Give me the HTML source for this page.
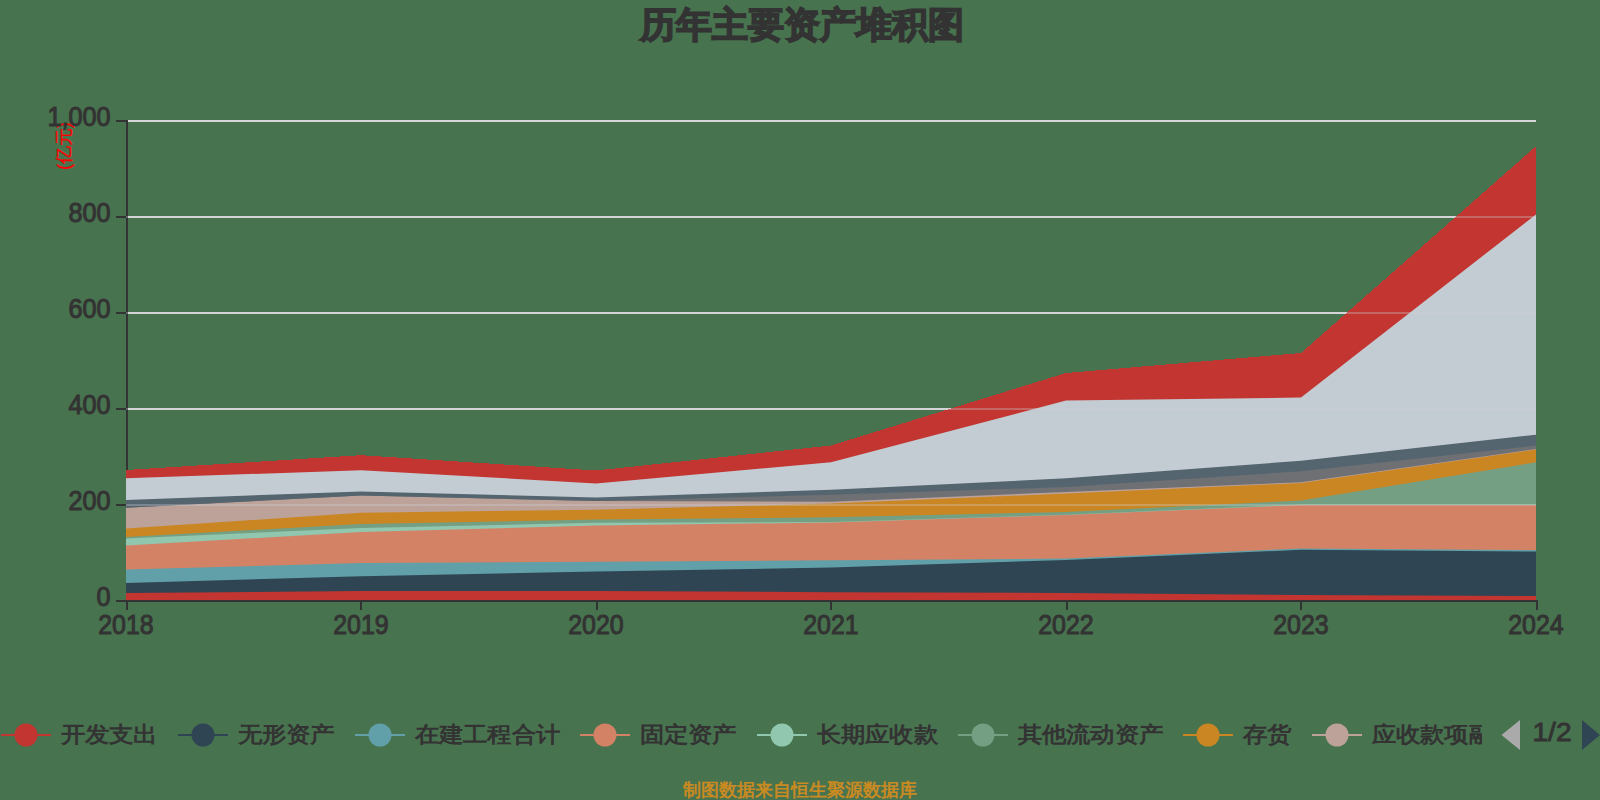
<!DOCTYPE html>
<html><head><meta charset="utf-8"><style>
html,body{margin:0;padding:0;background:#48734f;}
body{width:1600px;height:800px;overflow:hidden;position:relative;font-family:"Liberation Sans",sans-serif;}
svg{position:absolute;left:0;top:0;}
.ax{font-family:"Liberation Sans",sans-serif;font-size:26px;fill:#333;stroke:#333;stroke-width:1px;}
.lg{font-family:"Liberation Sans",sans-serif;font-size:24px;font-weight:bold;fill:#333;}
.tt{font-family:"Liberation Sans",sans-serif;font-size:36px;font-weight:bold;fill:#333;stroke:#333;stroke-width:1.65px;}
.ft{font-family:"Liberation Sans",sans-serif;font-size:18px;font-weight:bold;fill:#c98a22;}
.yn{font-family:"Liberation Sans",sans-serif;font-size:18px;fill:#ff0000;stroke:#ff0000;stroke-width:0.3px;}
</style></head><body>
<svg width="1600" height="800" viewBox="0 0 1600 800">
<text transform="translate(802,36.5)" text-anchor="middle" class="tt">历年主要资产堆积图</text>
<rect x="126" y="120" width="1410" height="2" fill="#d8d6da"/><rect x="126" y="216" width="1410" height="2" fill="#d8d6da"/><rect x="126" y="312" width="1410" height="2" fill="#d8d6da"/><rect x="126" y="408" width="1410" height="2" fill="#d8d6da"/><rect x="126" y="504" width="1410" height="2" fill="#d8d6da"/>
<rect x="126" y="120" width="2" height="482" fill="#333"/>
<path d="M126 470 L361 455.2 L596 470.5 L831 445.5 L1066 373 L1301 353 L1536 146.25 L1536 217.4 L1301 400.6 L1066 403.6 L831 465.3 L596 486.4 L361 473.2 L126 481.3 Z" fill="#c23531" shape-rendering="crispEdges"/><path d="M126 591.8 L361 589.8 L596 589.8 L831 591 L1066 591.8 L1301 593.8 L1536 594.8 L1536 600 L1301 600 L1066 600 L831 600 L596 600 L361 600 L126 600 Z" fill="#c23531"/><path d="M126 581.8 L361 575.1 L596 570.3 L831 566.3 L1066 558.8 L1301 548.6 L1536 550.3 L1536 596 L1301 595 L1066 593 L831 592.2 L596 591 L361 591 L126 593 Z" fill="#2f4554"/><path d="M126 568.3 L361 561.8 L596 560.6 L831 559 L1066 557.4 L1301 547.2 L1536 548.9 L1536 551.5 L1301 549.8 L1066 560 L831 567.5 L596 571.5 L361 576.3 L126 583 Z" fill="#61a0a8"/><path d="M126 544.3 L361 530.8 L596 524.3 L831 521.3 L1066 513.8 L1301 503.8 L1536 503.8 L1536 550.1 L1301 548.4 L1066 558.6 L831 560.2 L596 561.8 L361 563 L126 569.5 Z" fill="#d48265"/><path d="M126 537.3 L361 526.8 L596 521.6 L831 520.8 L1066 513.6 L1301 503.3 L1536 503.3 L1536 505 L1301 505 L1066 515 L831 522.5 L596 525.5 L361 532 L126 545.5 Z" fill="#91c7ae"/><path d="M126 535.8 L361 522.8 L596 518.3 L831 516.05 L1066 510.8 L1301 499.3 L1536 461.05 L1536 504.5 L1301 504.5 L1066 514.8 L831 522 L596 522.8 L361 528 L126 538.5 Z" fill="#749f83"/><path d="M126 527.3 L361 511.6 L596 508.5 L831 502.4 L1066 492.3 L1301 481.8 L1536 448.4 L1536 462.25 L1301 500.5 L1066 512 L831 517.25 L596 519.5 L361 524 L126 537 Z" fill="#ca8622"/><path d="M126 506.6 L361 494.3 L596 499.8 L831 500.55 L1066 490.8 L1301 481 L1536 447.8 L1536 449.6 L1301 483 L1066 493.5 L831 503.6 L596 509.7 L361 512.8 L126 528.5 Z" fill="#bda29a"/><path d="M126 506.6 L361 494.3 L596 499.8 L831 493.55 L1066 485.8 L1301 470 L1536 444.4 L1536 449 L1301 482.2 L1066 492 L831 501.75 L596 501 L361 495.5 L126 507.8 Z" fill="#6e7074"/><path d="M126 498.8 L361 490.3 L596 496.3 L831 488.5 L1066 477.1 L1301 459.6 L1536 433.55 L1536 445.6 L1301 471.2 L1066 487 L831 494.75 L596 501 L361 495.5 L126 507.8 Z" fill="#546570"/><path d="M126 478.3 L361 470.2 L596 483.4 L831 462.3 L1066 400.6 L1301 397.6 L1536 214.4 L1536 434.75 L1301 460.8 L1066 478.3 L831 489.7 L596 497.5 L361 491.5 L126 500 Z" fill="#c4ccd3"/>
<rect x="126" y="216" width="1410" height="2" fill="#ccd0d4" opacity="0.32"/><rect x="126" y="312" width="1410" height="2" fill="#ccd0d4" opacity="0.32"/><rect x="126" y="408" width="1410" height="2" fill="#ccd0d4" opacity="0.32"/><rect x="126" y="504" width="1410" height="2" fill="#ccd0d4" opacity="0.32"/>
<rect x="126" y="600" width="1412" height="2" fill="#333"/>
<rect x="116" y="120" width="10" height="2" fill="#333"/><rect x="116" y="216" width="10" height="2" fill="#333"/><rect x="116" y="312" width="10" height="2" fill="#333"/><rect x="116" y="408" width="10" height="2" fill="#333"/><rect x="116" y="504" width="10" height="2" fill="#333"/><rect x="116" y="600" width="10" height="2" fill="#333"/><rect x="126" y="600" width="2" height="10" fill="#333"/><rect x="360" y="600" width="2" height="10" fill="#333"/><rect x="596" y="600" width="2" height="10" fill="#333"/><rect x="830" y="600" width="2" height="10" fill="#333"/><rect x="1066" y="600" width="2" height="10" fill="#333"/><rect x="1300" y="600" width="2" height="10" fill="#333"/><rect x="1536" y="600" width="2" height="10" fill="#333"/>
<text transform="translate(70,146) rotate(-90)" text-anchor="middle" class="yn">(亿元)</text>
<text transform="translate(110.5,606) scale(0.97,1.05)" text-anchor="end" class="ax">0</text><text transform="translate(110.5,510) scale(0.97,1.05)" text-anchor="end" class="ax">200</text><text transform="translate(110.5,414) scale(0.97,1.05)" text-anchor="end" class="ax">400</text><text transform="translate(110.5,318) scale(0.97,1.05)" text-anchor="end" class="ax">600</text><text transform="translate(110.5,222) scale(0.97,1.05)" text-anchor="end" class="ax">800</text><text transform="translate(110.5,126) scale(0.97,1.05)" text-anchor="end" class="ax">1,000</text><text transform="translate(126,633.6) scale(0.96,1.06)" text-anchor="middle" class="ax">2018</text><text transform="translate(361,633.6) scale(0.96,1.06)" text-anchor="middle" class="ax">2019</text><text transform="translate(596,633.6) scale(0.96,1.06)" text-anchor="middle" class="ax">2020</text><text transform="translate(831,633.6) scale(0.96,1.06)" text-anchor="middle" class="ax">2021</text><text transform="translate(1066,633.6) scale(0.96,1.06)" text-anchor="middle" class="ax">2022</text><text transform="translate(1301,633.6) scale(0.96,1.06)" text-anchor="middle" class="ax">2023</text><text transform="translate(1536,633.6) scale(0.96,1.06)" text-anchor="middle" class="ax">2024</text>
<defs><clipPath id="lc"><rect x="0" y="700" width="1482" height="60"/></clipPath></defs>
<g clip-path="url(#lc)"><rect x="1" y="734" width="50" height="2" fill="#c23531"/><circle cx="26" cy="735" r="11.5" fill="#c23531"/><text transform="translate(61,742.3) scale(1.02,0.92)" class="lg">开发支出</text><rect x="178" y="734" width="50" height="2" fill="#2f4554"/><circle cx="203" cy="735" r="11.5" fill="#2f4554"/><text transform="translate(238,742.3) scale(1.02,0.92)" class="lg">无形资产</text><rect x="355" y="734" width="50" height="2" fill="#61a0a8"/><circle cx="380" cy="735" r="11.5" fill="#61a0a8"/><text transform="translate(415,742.3) scale(1.02,0.92)" class="lg">在建工程合计</text><rect x="580" y="734" width="50" height="2" fill="#d48265"/><circle cx="605" cy="735" r="11.5" fill="#d48265"/><text transform="translate(640,742.3) scale(1.02,0.92)" class="lg">固定资产</text><rect x="757" y="734" width="50" height="2" fill="#91c7ae"/><circle cx="782" cy="735" r="11.5" fill="#91c7ae"/><text transform="translate(817,742.3) scale(1.02,0.92)" class="lg">长期应收款</text><rect x="958" y="734" width="50" height="2" fill="#749f83"/><circle cx="983" cy="735" r="11.5" fill="#749f83"/><text transform="translate(1018,742.3) scale(1.02,0.92)" class="lg">其他流动资产</text><rect x="1183" y="734" width="50" height="2" fill="#ca8622"/><circle cx="1208" cy="735" r="11.5" fill="#ca8622"/><text transform="translate(1243,742.3) scale(1.02,0.92)" class="lg">存货</text><rect x="1312" y="734" width="50" height="2" fill="#bda29a"/><circle cx="1337" cy="735" r="11.5" fill="#bda29a"/><text transform="translate(1372,742.3) scale(1.02,0.92)" class="lg">应收款项融资</text></g>
<path d="M1501.5 735 L1520 720 L1520 750 Z" fill="#aaaaaa"/>
<text transform="translate(1532.5,740.6) scale(1.08,1)" class="ax" style="font-size:26px;stroke-width:0.9px">1/2</text>
<path d="M1582 720 L1600 735 L1582 750 Z" fill="#2f4554"/>
<text x="800" y="796" text-anchor="middle" class="ft">制图数据来自恒生聚源数据库</text>
</svg>
</body></html>
